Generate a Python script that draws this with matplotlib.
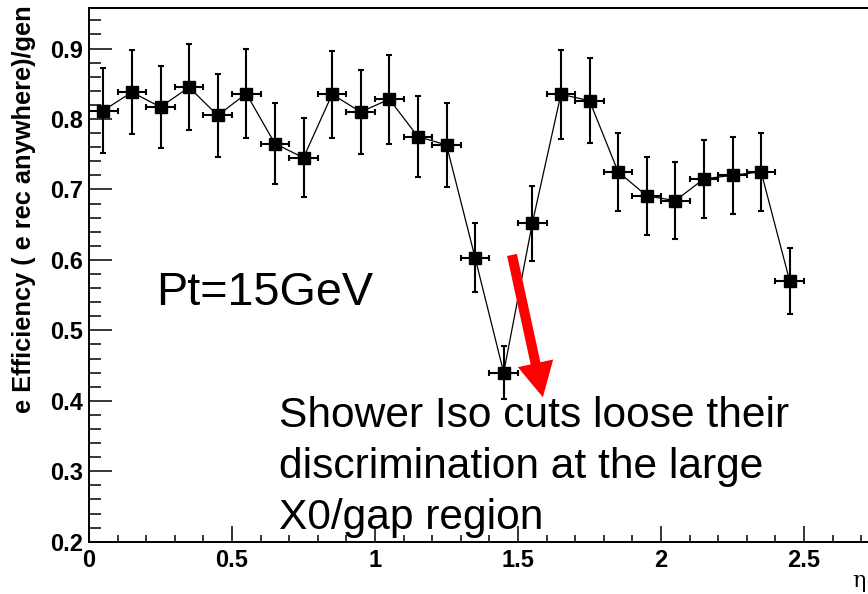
import matplotlib
matplotlib.use("Agg")
import matplotlib.pyplot as plt
from matplotlib.ticker import MultipleLocator, FixedFormatter, FixedLocator

# ---- data ----
eta = [0.05, 0.15, 0.25, 0.35, 0.45, 0.55, 0.65, 0.75, 0.85, 0.95,
       1.05, 1.15, 1.25, 1.35, 1.45, 1.55, 1.65, 1.75, 1.85, 1.95,
       2.05, 2.15, 2.25, 2.35, 2.45]
eff = [0.812, 0.838, 0.817, 0.845, 0.805, 0.836, 0.765, 0.745, 0.835, 0.810,
       0.828, 0.775, 0.763, 0.603, 0.440, 0.652, 0.835, 0.826, 0.725, 0.691,
       0.684, 0.715, 0.720, 0.725, 0.570]
eff_err = [0.061, 0.060, 0.058, 0.061, 0.059, 0.063, 0.058, 0.056, 0.062, 0.060,
           0.063, 0.058, 0.059, 0.049, 0.038, 0.053, 0.063, 0.060, 0.055, 0.055,
           0.055, 0.055, 0.055, 0.055, 0.047]
eta_halfwidth = [0.05] * len(eta)

yticks = [0.2, 0.3, 0.4, 0.5, 0.6, 0.7, 0.8, 0.9]
yticklabels = ["0.2", "0.3", "0.4", "0.5", "0.6", "0.7", "0.8", "0.9"]
xticks = [0, 0.5, 1, 1.5, 2, 2.5]
xticklabels = ["0", "0.5", "1", "1.5", "2", "2.5"]

W, H = 868, 594
fig = plt.figure(figsize=(W / 100, H / 100), dpi=100)
ax = fig.add_axes([89 / W, (H - 541.7) / H, (875.5 - 89) / W, (541.7 - 8) / H])
ax.set_xlim(0, 2.75)
ax.set_ylim(0.2, 0.9575)

ax.errorbar(eta, eff, yerr=eff_err, xerr=eta_halfwidth, fmt="none",
            ecolor="black", elinewidth=1.5, capsize=2.5, capthick=1.5, zorder=2)
ax.plot(eta, eff, color="black", lw=0.9, zorder=3)
ax.plot(eta, eff, ls="none", marker="s", ms=8.6, color="black", zorder=4)

for s in ax.spines.values():
    s.set_linewidth(1.4)

ax.xaxis.set_major_locator(FixedLocator(xticks))
ax.xaxis.set_major_formatter(FixedFormatter(xticklabels))
ax.xaxis.set_minor_locator(MultipleLocator(0.1))
ax.yaxis.set_major_locator(FixedLocator(yticks))
ax.yaxis.set_major_formatter(FixedFormatter(yticklabels))
ax.yaxis.set_minor_locator(MultipleLocator(0.02))

ax.tick_params(axis="y", which="major", direction="in", length=16.5, width=1.1, pad=4)
ax.tick_params(axis="y", which="minor", direction="in", length=8.6, width=1.1)
ax.tick_params(axis="x", which="major", direction="in", length=11.3, width=1.1, pad=5)
ax.tick_params(axis="x", which="minor", direction="in", length=5.3, width=1.1)
ax.tick_params(top=False, right=False, which="both")

for lab in ax.get_xticklabels() + ax.get_yticklabels():
    lab.set_fontfamily("Liberation Sans")
    lab.set_fontweight("bold")
    lab.set_fontsize(17)

# y-axis title (aligned to top of axis, ROOT style)
fig.text(24 / W, 1 - 5 / H, "e Efficiency ( e rec anywhere)/gen", rotation=90,
         ha="center", va="top", fontsize=18.3, fontweight="bold",
         family="Liberation Sans")
# x-axis title
fig.text(866 / W, 1 - 581 / H, "η", ha="right", va="center", fontsize=16,
         family="DejaVu Serif")

# annotations
fig.text(156 / W, 1 - 305 / H, "Pt=15GeV", ha="left", va="baseline",
         fontsize=33.7, family="Liberation Sans")
lines = ["Shower Iso cuts loose their", "discrimination at the large",
         "X0/gap region"]
for i, t in enumerate(lines):
    fig.text(279 / W, 1 - (426.7 + 51.3 * i) / H, t, ha="left", va="baseline",
             fontsize=30.6, family="Liberation Sans")

ax.annotate("", xy=(1.587, 0.405), xytext=(1.479, 0.607),
            arrowprops=dict(arrowstyle="simple,head_length=1.25,head_width=1.3,tail_width=0.36",
                            mutation_scale=20, color="red", shrinkA=0, shrinkB=0, lw=0),
            zorder=5)

fig.savefig("out.png", dpi=100)
